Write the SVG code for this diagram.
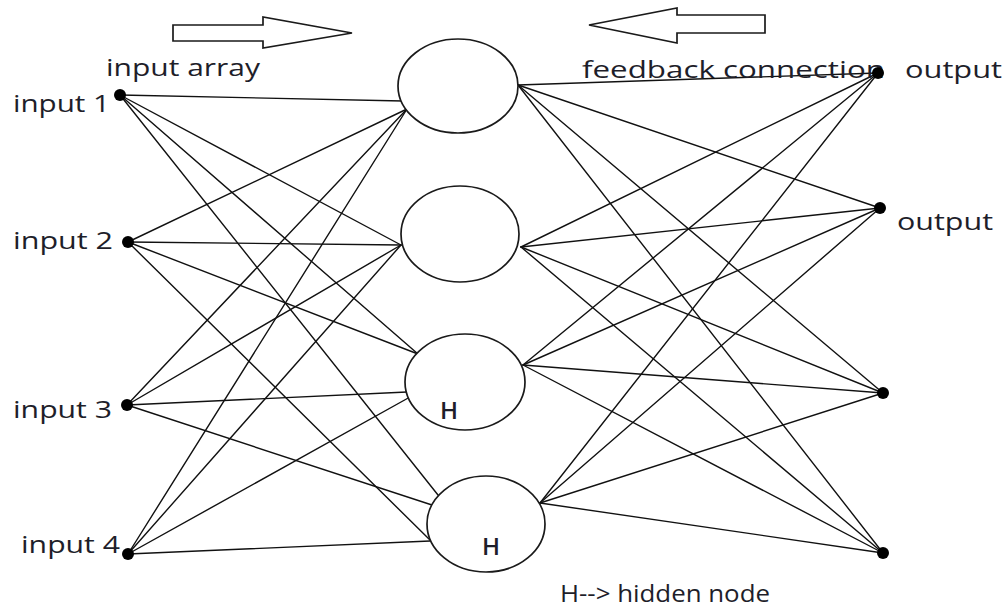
<svg xmlns="http://www.w3.org/2000/svg" width="1008" height="608" viewBox="0 0 1008 608">
  <style>
    .bg { fill: #ffffff; }
    .edge { stroke: #111111; stroke-width: 1.4; fill: none; stroke-linecap: round; }
    .hidden { fill: #ffffff; stroke: #1a1a1a; stroke-width: 1.7; }
    .dot { fill: #000000; }
    .arrow { fill: #ffffff; stroke: #1a1a1a; stroke-width: 1.7; stroke-linejoin: miter; }
    .lbl { font-family: "Open Sans", "Noto Sans", "Liberation Sans", sans-serif; font-size: 23px; fill: #1e1e2a; }
    .hl { font-family: "Open Sans", "Noto Sans", "Liberation Sans", sans-serif; font-size: 24px; font-weight: 600; fill: #1e1e2a; }
  </style>

  <rect class="bg" x="0" y="0" width="1008" height="608"/>

  <!-- direction arrows -->
  <g id="arrow-forward">
    <polygon class="arrow" points="173,25 263,25 263,17 352,33 263,48 263,41 173,41"/>
  </g>
  <g id="arrow-feedback">
    <polygon class="arrow" points="765,15 677,15 677,8 589,25 677,43 677,33 765,33"/>
  </g>

  <!-- connectors -->
  <g id="connectors">
    <!-- input 1 -->
    <line class="edge" x1="120" y1="95" x2="403" y2="101"/>
    <line class="edge" x1="120" y1="95" x2="401" y2="245"/>
    <line class="edge" x1="120" y1="95" x2="418" y2="354"/>
    <line class="edge" x1="120" y1="95" x2="438" y2="495"/>
    <!-- input 2 -->
    <line class="edge" x1="128" y1="242" x2="407" y2="109"/>
    <line class="edge" x1="128" y1="242" x2="401" y2="245"/>
    <line class="edge" x1="128" y1="242" x2="418" y2="354"/>
    <line class="edge" x1="128" y1="242" x2="430" y2="540"/>
    <!-- input 3 -->
    <line class="edge" x1="127" y1="405" x2="407" y2="109"/>
    <line class="edge" x1="127" y1="405" x2="401" y2="245"/>
    <line class="edge" x1="127" y1="405" x2="407" y2="392"/>
    <line class="edge" x1="127" y1="405" x2="432" y2="505"/>
    <!-- input 4 -->
    <line class="edge" x1="128" y1="554" x2="407" y2="109"/>
    <line class="edge" x1="128" y1="554" x2="401" y2="245"/>
    <line class="edge" x1="128" y1="554" x2="410" y2="397"/>
    <line class="edge" x1="128" y1="554" x2="430" y2="541"/>
    <!-- hidden 1 -->
    <line class="edge" x1="518" y1="85" x2="878" y2="73"/>
    <line class="edge" x1="518" y1="85" x2="880" y2="208"/>
    <line class="edge" x1="518" y1="85" x2="883" y2="393"/>
    <line class="edge" x1="518" y1="85" x2="883" y2="553"/>
    <!-- hidden 2 -->
    <line class="edge" x1="521" y1="247" x2="878" y2="73"/>
    <line class="edge" x1="521" y1="247" x2="880" y2="208"/>
    <line class="edge" x1="521" y1="247" x2="883" y2="393"/>
    <line class="edge" x1="521" y1="247" x2="883" y2="553"/>
    <!-- hidden 3 -->
    <line class="edge" x1="523" y1="365" x2="878" y2="73"/>
    <line class="edge" x1="523" y1="365" x2="880" y2="208"/>
    <line class="edge" x1="523" y1="365" x2="883" y2="393"/>
    <line class="edge" x1="523" y1="365" x2="883" y2="553"/>
    <!-- hidden 4 -->
    <line class="edge" x1="540" y1="503" x2="878" y2="73"/>
    <line class="edge" x1="540" y1="503" x2="880" y2="208"/>
    <line class="edge" x1="540" y1="503" x2="883" y2="393"/>
    <line class="edge" x1="540" y1="503" x2="883" y2="553"/>
  </g>

  <!-- hidden layer -->
  <g id="hidden-1">
    <ellipse class="hidden" cx="458" cy="86" rx="60" ry="47"/>
  </g>
  <g id="hidden-2">
    <ellipse class="hidden" cx="460" cy="234" rx="59" ry="48"/>
  </g>
  <g id="hidden-3">
    <ellipse class="hidden" cx="465" cy="382" rx="60" ry="48"/>
    <text class="hl" x="440" y="419">H</text>
  </g>
  <g id="hidden-4">
    <ellipse class="hidden" cx="486" cy="524" rx="59" ry="48"/>
    <text class="hl" x="482" y="555">H</text>
  </g>

  <!-- input layer -->
  <g id="input-array-label">
    <text class="lbl" x="106" y="76" textLength="154" lengthAdjust="spacingAndGlyphs">input array</text>
  </g>
  <g id="input-1">
    <circle class="dot" cx="120" cy="95" r="6"/>
    <text class="lbl" x="13" y="112" textLength="97" lengthAdjust="spacingAndGlyphs">input 1</text>
  </g>
  <g id="input-2">
    <circle class="dot" cx="128" cy="242" r="6"/>
    <text class="lbl" x="13" y="249" textLength="100" lengthAdjust="spacingAndGlyphs">input 2</text>
  </g>
  <g id="input-3">
    <circle class="dot" cx="127" cy="405" r="6"/>
    <text class="lbl" x="13" y="418" textLength="99" lengthAdjust="spacingAndGlyphs">input 3</text>
  </g>
  <g id="input-4">
    <text class="lbl" x="21" y="553" textLength="99" lengthAdjust="spacingAndGlyphs">input 4</text>
    <circle class="dot" cx="128" cy="554" r="6"/>
  </g>

  <!-- output layer -->
  <g id="feedback-label">
    <text class="lbl" x="582" y="78" textLength="303" lengthAdjust="spacingAndGlyphs">feedback connection</text>
  </g>
  <g id="output-1">
    <circle class="dot" cx="878" cy="73" r="6"/>
    <text class="lbl" x="905" y="78" textLength="97" lengthAdjust="spacingAndGlyphs">output</text>
  </g>
  <g id="output-2">
    <circle class="dot" cx="880" cy="208" r="6"/>
    <text class="lbl" x="897" y="230" textLength="96" lengthAdjust="spacingAndGlyphs">output</text>
  </g>
  <g id="output-3">
    <circle class="dot" cx="883" cy="393" r="6"/>
  </g>
  <g id="output-4">
    <circle class="dot" cx="883" cy="553" r="6"/>
  </g>

  <!-- legend -->
  <g id="legend">
    <text class="lbl" x="560" y="602" textLength="210" lengthAdjust="spacingAndGlyphs">H--&gt; hidden node</text>
  </g>
</svg>
